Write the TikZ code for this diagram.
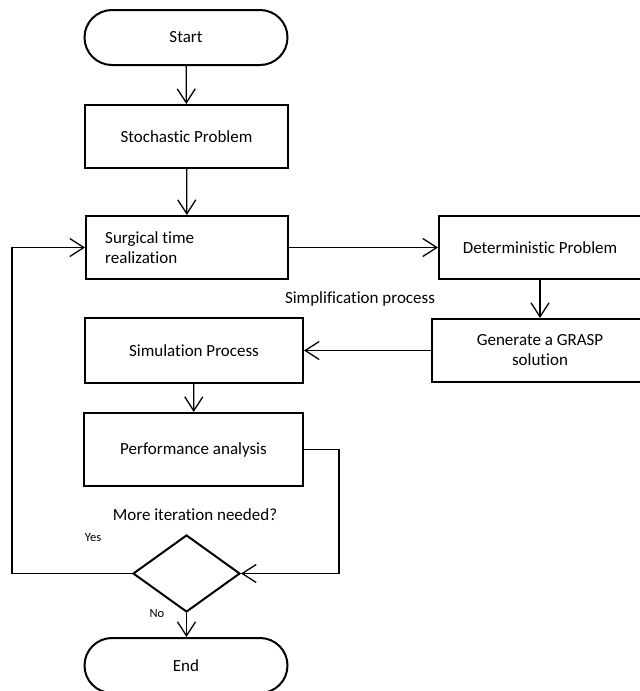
\documentclass[tikz,border=0pt]{standalone}
\usepackage{fontspec}
\setmainfont[Ligatures={NoCommon}]{Carlito}
\usetikzlibrary{shapes.misc,shapes.geometric,arrows.meta}
\begin{document}
\begin{tikzpicture}[x=1pt,y=-1pt,
  box/.style={draw, line width=2pt, rectangle, inner sep=0pt, font=\fontsize{17}{20}\selectfont},
  term/.style={draw, line width=2pt, rounded rectangle, rounded rectangle arc length=180, inner sep=0pt, minimum width=203pt, minimum height=55pt, font=\fontsize{17}{20}\selectfont},
  dec/.style={draw, line width=2pt, diamond, inner sep=0pt, minimum width=107pt, minimum height=77pt, shape aspect=1.39},
  conn/.style={line width=1.3pt},
  arr/.style={conn, -{Straight Barb[length=14pt,width=18pt,line width=1.3pt]}},
  lbl/.style={font=\fontsize{17}{20}\selectfont, inner sep=0pt},
  small/.style={font=\fontsize{12.5}{14}\selectfont, inner sep=0pt}]
\useasboundingbox (0,0) rectangle (640,691);
\node[term] (start) at (186,37.5) {Start};
\node[box, minimum width=203pt, minimum height=63pt] (stoch) at (186.5,136.5) {Stochastic Problem};
\node[box, minimum width=202pt, minimum height=63pt] (surg) at (187,247.5) {};
\node[lbl, anchor=west, align=left] (surgtxt) at (105,248) {Surgical time\\realization};
\node[box, minimum width=202pt, minimum height=63pt] (det) at (540,247.5) {Deterministic Problem};
\node[box, minimum width=216pt, minimum height=63pt, align=center] (grasp) at (540,350.5) {Generate a GRASP\\solution};
\node[box, minimum width=218pt, minimum height=65pt] (sim) at (194,350.5) {Simulation Process};
\node[box, minimum width=219pt, minimum height=73pt] (perf) at (193.5,449.5) {Performance analysis};
\node[lbl] (simp) at (360,299) {Simplification process};
\node[lbl] (more) at (195,515) {More iteration needed?};
\node[dec] (dia) at (186.5,573.5) {};
\node[small] (yes) at (93,538) {Yes};
\node[small] (no) at (157,614) {No};
\node[term] (end) at (186,665.5) {End};
\coordinate (loopc) at (12,573.5);
\coordinate (perfc) at (339,449.5);
\draw[arr] (start) -- (stoch);
\draw[arr] (stoch) -- (surg);
\draw[arr] (surg) -- (det);
\draw[arr] (det.south) -- (det.south |- grasp.north);
\draw[arr] (grasp) -- (sim);
\draw[arr] (sim) -- (perf);
\draw[arr] (perf.east) -- (perfc) |- (dia.east);
\draw[arr] (dia.west) -- (loopc) |- (surg.west);
\draw[arr] (dia.south) -- (end.north -| dia.south);
\end{tikzpicture}
\end{document}
